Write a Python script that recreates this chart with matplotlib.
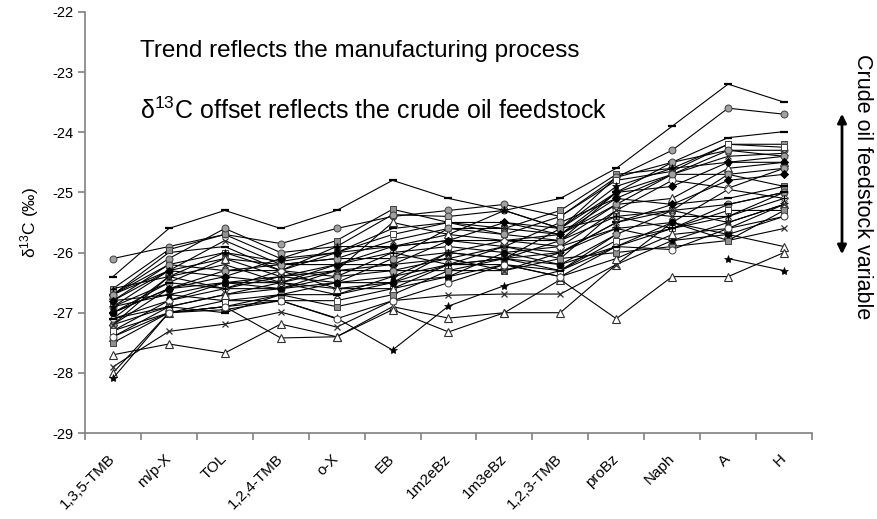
import matplotlib
matplotlib.use("Agg")
import matplotlib.pyplot as plt
from matplotlib.patches import FancyArrowPatch
import numpy as np

plt.rcParams["font.family"] = ["Liberation Sans", "DejaVu Sans"]
plt.rcParams["mathtext.fontset"] = "custom"
plt.rcParams["mathtext.rm"] = "Liberation Sans"
plt.rcParams["axes.unicode_minus"] = False

compounds = ["1,3,5-TMB", "m/p-X", "TOL", "1,2,4-TMB", "o-X", "EB", "1m2eBz",
             "1m3eBz", "1,2,3-TMB", "proBz", "Naph", "A", "H"]

# d13C per sample (per mil), one list per gasoline sample
s01 = [-26.4, -25.6, -25.3, -25.6, -25.3, -24.8, -25.1, -25.3, -25.1, -24.6, -23.9, -23.2, -23.5]
s02 = [-26.1, -25.9, -25.7, -25.85, -25.6, -25.4, -25.3, -25.2, -25.4, -24.75, -24.3, -23.6, -23.7]
s03 = [-27.7, -27.52, -27.67, -27.19, -27.4, -26.9, -27.09, -27.0, -27.0, -26.2, -25.8, -25.7, -25.9]
s04 = [-28.0, -27.0, -26.9, -27.42, -27.4, -26.95, -27.32, -27.0, -26.45, -27.1, -26.4, -26.4, -26.0]
s05 = [-28.09, -27.0, -26.95, -26.8, -27.09, -27.62, -26.89, -26.55, -26.3, -25.7, np.nan, -26.1, -26.3]
s06 = [-27.9, -27.31, -27.19, -26.99, -27.24, -26.8, -26.71, -26.69, -26.69, -26.2, -25.5, -25.8, -25.6]
s07 = [-26.7, -26.0, -25.9, -26.3, -26.0, -25.6, -25.5, -25.5, -25.6, -25.0, -24.5, -24.09, -23.99]
s08 = [-26.6, -25.95, -25.7, -26.1, -25.8, -25.28, -25.5, -25.6, -25.3, -24.7, -24.6, -24.2, -24.2]
s09 = [-26.7, -26.1, -25.6, -26.0, -25.9, -25.37, -25.4, -25.3, -25.6, -24.75, -24.5, -24.3, -24.3]
s10 = [-26.8, -26.2, -26.0, -26.15, -26.0, -25.7, -25.5, -25.7, -25.4, -24.8, -24.65, -24.2, -24.25]
s11 = [-26.9, -26.3, -25.8, -26.2, -26.1, -25.8, -25.6, -25.6, -25.7, -25.0, -24.7, -24.4, -24.35]
s12 = [-27.1, -26.4, -26.0, -26.3, -25.9, -25.9, -25.7, -25.3, -25.6, -24.9, -24.6, -24.5, -24.4]
s13 = [-26.9, -26.5, -26.1, -26.2, -26.2, -25.9, -25.8, -25.9, -25.5, -25.1, -24.7, -24.3, -24.4]
s14 = [-26.7, -26.3, -26.1, -26.4, -26.3, -25.5, -25.7, -25.8, -25.7, -25.2, -25.1, -24.6, -24.5]
s15 = [-27.0, -26.6, -26.3, -26.3, -26.4, -26.0, -25.9, -26.0, -25.9, -25.3, -24.8, -24.93, -24.6]
s16 = [-27.2, -26.6, -26.4, -26.5, -26.2, -26.2, -25.8, -25.8, -25.8, -25.0, -24.9, -24.5, -24.5]
s17 = [-27.3, -26.8, -26.5, -26.4, -26.5, -26.1, -26.0, -26.1, -25.6, -25.4, -25.3, -24.7, -24.9]
s18 = [-27.0, -26.5, -26.6, -26.6, -26.3, -26.3, -26.1, -25.9, -26.0, -25.5, -25.2, -25.1, -24.9]
s19 = [-26.8, -26.7, -26.5, -26.5, -26.7, -26.4, -26.2, -25.9, -26.1, -25.3, -25.4, -25.4, -25.0]
s20 = [-27.1, -26.8, -26.6, -26.3, -26.6, -26.5, -26.0, -25.8, -25.9, -25.6, -25.5, -24.95, -25.1]
s21 = [-27.2, -26.9, -26.7, -26.6, -26.4, -26.3, -26.3, -26.1, -26.2, -25.7, -25.3, -25.2, -25.0]
s22 = [-26.9, -26.7, -26.8, -26.7, -26.5, -26.4, -26.0, -26.1, -26.0, -25.6, -25.8, -25.5, -25.2]
s23 = [-27.3, -27.0, -26.8, -26.8, -26.8, -26.6, -26.4, -26.2, -26.3, -25.8, -25.6, -25.3, -25.3]
s24 = [-27.4, -26.9, -26.7, -26.5, -26.6, -26.6, -26.2, -26.2, -26.4, -26.1, -25.7, -25.6, -25.2]
s25 = [-27.0, -26.6, -26.5, -26.6, -26.5, -26.5, -26.4, -26.0, -26.2, -25.9, -25.5, -25.7, -25.4]
s26 = [-27.5, -27.0, -26.9, -26.7, -26.9, -26.7, -26.3, -26.3, -26.1, -26.0, -25.9, -25.8, -25.3]
s27 = [-26.6, -26.4, -26.6, -26.4, -26.2, -26.0, -26.2, -26.1, -25.8, -25.4, -25.6, -25.4, -25.1]
s28 = [-27.4, -27.0, -26.9, -26.8, -27.1, -26.8, -26.5, -26.2, -26.4, -25.9, -25.95, -25.6, -25.4]
s29 = [-26.7, -26.2, -26.3, -26.2, -26.1, -26.1, -25.6, -25.7, -25.8, -25.2, -24.7, -24.7, -24.6]
s30 = [-27.2, -26.4, -26.2, -26.5, -26.3, -26.2, -26.1, -26.3, -26.0, -25.5, -25.3, -25.5, -25.2]
s31 = [-26.8, -26.3, -26.4, -26.1, -26.0, -25.9, -25.8, -25.5, -25.7, -25.1, -25.2, -24.8, -24.7]
s32 = [-27.1, -26.9, -27.0, -26.7, -26.7, -26.5, -26.2, -26.1, -26.3, -25.9, -25.6, -25.2, -25.0]

samples = [s01, s02, s03, s04, s05, s06, s07, s08, s09, s10, s11, s12, s13, s14, s15, s16,
           s17, s18, s19, s20, s21, s22, s23, s24, s25, s26, s27, s28, s29, s30, s31, s32]
marker_keys = ["dash", "grey_o", "tri", "tri", "star", "x", "dash", "grey_s",
               "grey_o", "white_s", "x", "star", "grey_o", "tri", "white_o", "black_d",
               "grey_s", "dash", "x", "white_d", "grey_o", "star", "white_s", "tri",
               "black_o", "grey_s", "plus", "white_o", "grey_o", "x", "black_d", "dash"]

# Excel-style black & white marker set
MARKERS = {
    "dash":    dict(marker="_", markersize=6, mec="black", mew=1.6),
    "grey_o":  dict(marker="o", markersize=5, mfc="#a0a0a0", mec="#404040", mew=0.7),
    "grey_s":  dict(marker="s", markersize=5, mfc="#909090", mec="#404040", mew=0.7),
    "white_s": dict(marker="s", markersize=5, mfc="white", mec="#404040", mew=0.7),
    "white_o": dict(marker="o", markersize=5, mfc="white", mec="#404040", mew=0.7),
    "black_o": dict(marker="o", markersize=4.5, mfc="black", mec="black", mew=0.7),
    "tri":     dict(marker="^", markersize=6, mfc="white", mec="#303030", mew=0.8),
    "x":       dict(marker="x", markersize=5, mec="#303030", mew=0.9),
    "star":    dict(marker="*", markersize=6, mfc="black", mec="black", mew=0.5),
    "plus":    dict(marker="+", markersize=5, mec="black", mew=0.9),
    "white_d": dict(marker="D", markersize=4.5, mfc="white", mec="#404040", mew=0.7),
    "black_d": dict(marker="D", markersize=4, mfc="black", mec="black", mew=0.7),
}

fig = plt.figure(figsize=(8.78, 5.19), dpi=100)
ax = fig.add_axes([0.0968, 0.1657, 0.828, 0.8113])

x = np.arange(len(compounds))
for vals, key in zip(samples, marker_keys):
    ax.plot(x, vals, color="black", lw=0.8, **MARKERS[key])

ax.set_xlim(-0.5, len(compounds) - 0.5)
ax.set_ylim(-29, -22)
ax.set_yticks(np.arange(-29, -21, 1))
ax.set_yticklabels([f"{v:d}" for v in range(-29, -21)], fontsize=10.5)

# labels at category centres, tick marks on category boundaries
ax.set_xticks(x)
ax.set_xticklabels(compounds, rotation=45, ha="right", va="center",
                   rotation_mode="anchor", fontsize=11)
ax.tick_params(axis="x", which="major", length=0, pad=17)
ax.set_xticks(np.arange(-0.5, len(compounds)), minor=True)
ax.tick_params(axis="x", which="minor", length=5, color="#808080", width=1.2)
ax.tick_params(axis="y", length=5, color="#808080", width=1.2)

for side in ("top", "right"):
    ax.spines[side].set_visible(False)
for side in ("left", "bottom"):
    ax.spines[side].set_color("#808080")
    ax.spines[side].set_linewidth(1.2)

ax.set_ylabel(r"δ$\mathregular{^{13}}$C (‰)", fontsize=12.5, labelpad=8)

fig.text(0.159, 0.902, "Trend reflects the manufacturing process",
         fontsize=17.5, va="center", ha="left")
fig.text(0.159, 0.787, r"δ$\mathregular{^{13}}$C offset reflects the crude oil feedstock",
         fontsize=18, va="center", ha="left")

fig.text(0.982, 0.64, "Crude oil feedstock variable", rotation=270,
         fontsize=15.5, va="center", ha="center")
fig.add_artist(FancyArrowPatch(
    (0.959, 1 - 111 / 519), (0.959, 1 - 257 / 519), transform=fig.transFigure,
    arrowstyle="<|-|>", mutation_scale=13, color="black", lw=2))

fig.savefig("out.png", dpi=100, facecolor="white")
